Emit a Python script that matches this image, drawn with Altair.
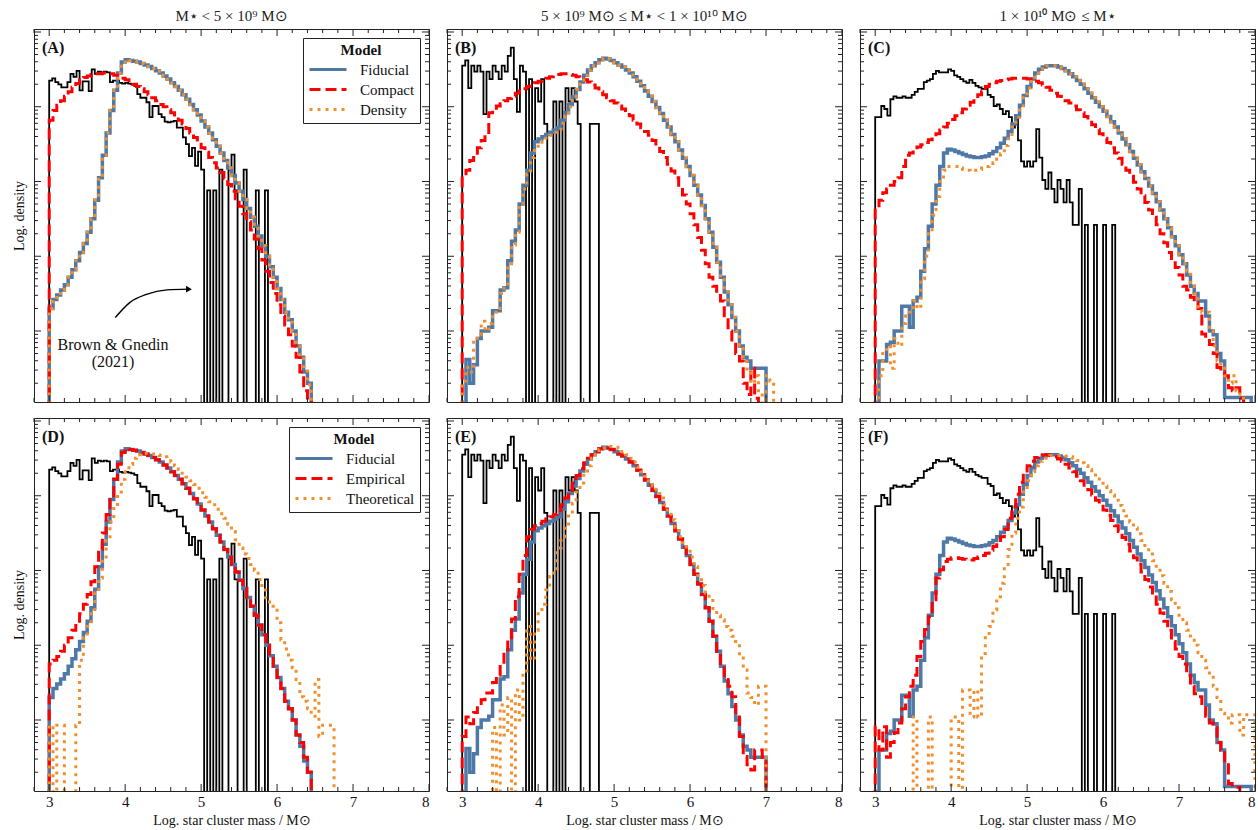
import math
import altair as alt
import pandas as pd

SERIF = "Liberation Serif"
FRAME = "#222222"
BLUE = "#4e79a7"
RED = "#ff0000"
ORANGE = "#f28e2b"

XMIN, XMAX = 2.8, 8.0
YMIN, YMAX = -3.95, 1.04
FLOOR = -9.0
W, H = 395, 373
X0 = 3.0
MODEL_BW = 0.05
OBS_BW = 0.04
N = None

# ---------------- observed (Brown & Gnedin 2021), log10 density, 0.04 dex bins from 3.0
obs_low = [0.35, 0.38, 0.33, 0.30, 0.26, 0.26, 0.33, 0.44, 0.40, 0.48,
           0.22, 0.34, 0.34, 0.21, 0.50, 0.44, 0.47, 0.46, 0.47, 0.46,
           0.33, 0.35, 0.35, 0.32, 0.31, 0.32, 0.31, 0.30, 0.28, 0.17,
           0.12, 0.12, 0.06, -0.14, 0.01, 0.01, -0.10, -0.14, -0.20, -0.21,
           -0.20, -0.19, -0.28, -0.28, -0.41, -0.50, -0.66, -0.55, -0.79, -0.60,
           -0.84, N, -1.12, N, -1.12, N, -0.84, N, N, -0.84,
           -0.64, -1.12, N, N, -0.84, N, N, N, -1.12, N,
           N, -1.12]
obs_mid = [0.55, 0.62, 0.25, 0.55, 0.47, 0.55, 0.47, -0.10, 0.47, 0.37,
           0.55, 0.47, 0.37, 0.55, 0.47, 0.68, 0.79, 0.37, -0.07, 0.55,
           0.47, N, 0.37, N, 0.25, 0.07, 0.37, -0.23, N, N,
           0.07, N, 0.07, N, 0.25, 0.07, 0.25, 0.07, -0.23, N,
           N, N, -0.23, -0.23, -0.23]
obs_high = [-0.14, -0.14, 0.01, -0.03, -0.12, 0.10, 0.14, 0.12, 0.12, 0.14,
            0.12, 0.12, 0.16, 0.20, 0.24, 0.24, 0.33, 0.35, 0.37, 0.44,
            0.48, 0.46, 0.46, 0.46, 0.50, 0.48, 0.42, 0.40, 0.37, 0.34,
            0.32, 0.36, 0.32, 0.28, 0.26, 0.24, 0.24, 0.16, 0.13, 0.01,
            0.03, -0.03, -0.10, -0.06, -0.14, -0.28, -0.14, -0.45, -0.73, -0.80,
            -0.73, -0.80, -0.73, -0.30, -0.68, -0.98, -1.10, -0.88, -1.10, -1.28,
            -0.98, -1.10, -1.28, -0.98, -1.28, -1.58, -1.58, -1.10, N, -1.58,
            N, N, -1.58, N, N, -1.58, N, N, -1.58]

# ---------------- models, log10 density, 0.05 dex bins from 3.0
fid_low = [-2.70, -2.58, -2.52, -2.45, -2.38, -2.28, -2.18, -2.06, -1.95, -1.83,
           -1.68, -1.50, -1.25, -0.95, -0.65, -0.35, -0.05, 0.22, 0.45, 0.60,
           0.63, 0.62, 0.61, 0.60, 0.58, 0.56, 0.54, 0.51, 0.48, 0.45,
           0.41, 0.37, 0.32, 0.27, 0.22, 0.16, 0.10, 0.03, -0.04, -0.11,
           -0.19, -0.27, -0.35, -0.44, -0.53, -0.62, -0.72, -0.82, -0.92, -1.02,
           -1.13, -1.24, -1.36, -1.48, -1.60, -1.73, -1.86, -2.00, -2.14, -2.28,
           -2.43, -2.58, -2.75, -2.85, -3.00, -3.20, -3.35, -3.55, -3.70]
cmp_low = [-0.18, -0.05, 0.02, 0.08, 0.14, 0.20, 0.26, 0.31, 0.36, 0.39,
           0.41, 0.43, 0.44, 0.44, 0.45, 0.44, 0.44, 0.42, 0.40, 0.38,
           0.36, 0.33, 0.30, 0.27, 0.24, 0.20, 0.16, 0.12, 0.08, 0.03,
           0.00, -0.04, -0.08, -0.13, -0.18, -0.23, -0.29, -0.35, -0.41, -0.48,
           -0.55, -0.61, -0.68, -0.75, -0.82, -0.88, -0.96, -1.04, -1.13, -1.23,
           -1.33, -1.43, -1.54, -1.65, -1.77, -1.90, -2.05, -2.20, -2.35, -2.50,
           -2.65, -2.80, -2.92, -3.05, -3.20, -3.35, -3.55, -3.80, -3.95]
den_low = [-2.70, -2.58, -2.52, -2.45, -2.38, -2.28, -2.18, -2.06, -1.95, -1.83,
           -1.68, -1.50, -1.25, -0.95, -0.65, -0.35, -0.05, 0.22, 0.45, 0.60,
           0.63, 0.62, 0.61, 0.60, 0.58, 0.56, 0.54, 0.51, 0.48, 0.45,
           0.41, 0.37, 0.32, 0.27, 0.22, 0.16, 0.10, 0.03, -0.04, -0.11,
           -0.19, -0.27, -0.35, -0.44, -0.53, -0.62, -0.72, -0.82, -0.92, -1.02,
           -1.13, -1.24, -1.36, -1.48, -1.60, -1.73, -1.86, -2.00, -2.14, -2.28,
           -2.43, -2.58, -2.75, -2.85, -3.00, -3.15, -3.35, -3.50, -3.72]
emp_low = [-2.25, -2.20, -2.15, -2.08, -2.00, -1.90, -1.80, -1.68, -1.58, -1.45,
           -1.32, -1.15, -0.95, -0.72, -0.50, -0.25, 0.00, 0.22, 0.42, 0.58,
           0.63, 0.62, 0.61, 0.60, 0.58, 0.56, 0.54, 0.51, 0.48, 0.45,
           0.41, 0.37, 0.32, 0.27, 0.22, 0.16, 0.10, 0.03, -0.04, -0.11,
           -0.19, -0.27, -0.35, -0.44, -0.53, -0.62, -0.72, -0.82, -0.92, -1.02,
           -1.13, -1.24, -1.36, -1.48, -1.60, -1.73, -1.86, -2.00, -2.14, -2.28,
           -2.43, -2.58, -2.75, -2.85, -3.00, -3.20, -3.30, -3.50, -3.70]
the_low = [-3.07, N, -3.07, -3.07, N, N, N, -3.07, -2.20, -1.90,
           -1.75, -1.55, -1.30, -1.10, -0.85, -0.60, -0.35, -0.15, 0.05, 0.22,
           0.32, 0.42, 0.50, 0.55, 0.57, 0.57, 0.57, 0.56, 0.55, 0.54,
           0.52, 0.49, 0.45, 0.40, 0.35, 0.30, 0.25, 0.20, 0.15, 0.10,
           0.04, -0.02, -0.08, -0.12, -0.18, -0.24, -0.30, -0.38, -0.48, -0.59,
           -0.70, -0.78, -0.84, -0.92, -1.00, -1.12, -1.26, -1.40, -1.48, -1.50,
           -1.70, -1.93, -2.05, -2.20, -2.30, -2.46, -2.69, -2.75, -2.85, -2.95,
           -2.46, -3.22, -3.07, -3.07, -3.07]

fid_mid = [N, -3.38, -3.70, -3.45, -3.10, -3.00, -3.00, -2.95, -2.73, -2.73,
           -2.45, -2.42, -2.06, -1.80, -1.65, -1.30, -1.05, -0.85, -0.62, -0.47,
           -0.43, -0.40, -0.37, -0.34, -0.31, -0.28, -0.18, -0.08, 0.03, 0.13,
           0.23, 0.33, 0.42, 0.49, 0.55, 0.59, 0.63, 0.65, 0.64, 0.62,
           0.59, 0.56, 0.53, 0.49, 0.45, 0.40, 0.34, 0.28, 0.21, 0.14,
           0.07, -0.01, -0.09, -0.18, -0.27, -0.37, -0.47, -0.58, -0.69, -0.80,
           -0.92, -1.05, -1.18, -1.32, -1.50, -1.68, -1.88, -2.08, -2.28, -2.48,
           -2.65, -2.82, -3.00, -3.20, -3.35, -3.40, -3.50, -3.50, -3.50, -3.50]
cmp_mid = [-0.92, -0.85, -0.72, -0.65, -0.55, -0.45, -0.38, -0.08, -0.04, 0.01,
           0.04, 0.08, 0.11, 0.14, 0.18, 0.21, 0.24, 0.27, 0.30, 0.32,
           0.34, 0.36, 0.38, 0.40, 0.42, 0.43, 0.44, 0.44, 0.43, 0.42,
           0.40, 0.38, 0.36, 0.33, 0.29, 0.25, 0.20, 0.16, 0.12, 0.08,
           0.05, 0.01, -0.03, -0.08, -0.12, -0.18, -0.23, -0.28, -0.33, -0.38,
           -0.45, -0.52, -0.60, -0.68, -0.77, -0.86, -0.95, -1.05, -1.18, -1.30,
           -1.43, -1.58, -1.75, -1.92, -2.10, -2.28, -2.40, -2.50, -2.60, -2.85,
           -3.00, -3.15, -3.30, -3.40, -3.70, -3.85, -3.50, -3.90]
den_mid = [-3.67, -3.49, -3.55, -3.15, -3.05, -2.87, -3.00, -2.90, -2.75, -2.70,
           -2.50, -2.40, -2.10, -1.85, -1.68, -1.35, -1.10, -0.90, -0.68, -0.55,
           -0.50, -0.46, -0.42, -0.38, -0.34, -0.30, -0.22, -0.12, 0.00, 0.12,
           0.23, 0.33, 0.42, 0.49, 0.55, 0.59, 0.63, 0.65, 0.64, 0.62,
           0.59, 0.56, 0.53, 0.49, 0.45, 0.40, 0.34, 0.28, 0.21, 0.14,
           0.07, -0.01, -0.09, -0.18, -0.27, -0.37, -0.47, -0.58, -0.69, -0.80,
           -0.92, -1.05, -1.18, -1.32, -1.50, -1.68, -1.88, -2.08, -2.28, -2.48,
           -2.65, -2.82, -3.00, -3.20, -3.40, -3.55, -3.70, -3.60, -3.80, N,
           -3.60, -3.67]
emp_mid = [-3.22, -2.96, -3.05, -2.90, -2.78, -2.73, -2.64, -2.64, -2.50, -2.40,
           -2.25, -2.10, -1.90, -1.65, -1.35, -1.05, -0.80, -0.55, -0.45, -0.40,
           -0.37, -0.34, -0.31, -0.28, -0.25, -0.20, -0.12, -0.03, 0.07, 0.17,
           0.27, 0.36, 0.44, 0.50, 0.55, 0.59, 0.63, 0.65, 0.64, 0.62,
           0.59, 0.56, 0.53, 0.49, 0.45, 0.40, 0.34, 0.28, 0.21, 0.14,
           0.07, -0.01, -0.09, -0.18, -0.27, -0.37, -0.47, -0.58, -0.69, -0.80,
           -0.92, -1.05, -1.18, -1.32, -1.50, -1.68, -1.88, -2.08, -2.28, -2.46,
           -2.55, -2.69, -2.96, -3.22, -3.49, -3.60, -3.67, -3.40, -3.40, -3.50]
the_mid = [N, N, N, N, N, N, N, N, -3.10, N,
           -2.80, -3.20, -2.70, N, -2.60, -3.00, -2.40, -1.75, -2.20, -1.80,
           -1.55, -1.45, -1.26, -1.08, -1.00, -0.70, -0.55, -0.40, -0.25, -0.10,
           0.05, 0.17, 0.30, 0.40, 0.50, 0.57, 0.62, 0.64, 0.66, 0.66,
           0.65, 0.63, 0.59, 0.55, 0.50, 0.45, 0.38, 0.32, 0.26, 0.20,
           0.13, 0.05, -0.03, -0.12, -0.22, -0.32, -0.42, -0.55, -0.65, -0.72,
           -0.82, -0.95, -1.10, -1.20, -1.30, -1.40, -1.53, -1.60, -1.66, -1.75,
           -1.80, -1.88, -1.95, -2.15, -2.33, -2.64, -2.70, -2.80, -2.55, -2.55]

fid_high = [N, -3.40, -3.40, -3.18, -3.15, -3.00, -3.00, -2.67, -2.67, -2.95,
            -2.60, -2.55, -2.20, -1.90, -1.60, -1.30, -1.05, -0.80, -0.62, -0.57,
            -0.58, -0.60, -0.62, -0.64, -0.66, -0.67, -0.68, -0.68, -0.67, -0.66,
            -0.63, -0.60, -0.55, -0.49, -0.42, -0.33, -0.23, -0.12, 0.02, 0.15,
            0.27, 0.37, 0.45, 0.50, 0.53, 0.55, 0.55, 0.55, 0.53, 0.51,
            0.48, 0.44, 0.40, 0.35, 0.30, 0.24, 0.18, 0.12, 0.06, 0.00,
            -0.06, -0.13, -0.20, -0.27, -0.35, -0.43, -0.51, -0.60, -0.69, -0.78,
            -0.87, -0.96, -1.06, -1.16, -1.27, -1.38, -1.50, -1.62, -1.74, -1.86,
            -1.98, -2.10, -2.25, -2.40, -2.50, -2.60, -2.60, -2.80, -3.00, -3.05,
            -3.30, -3.40, -3.89, -3.89, -3.89, -3.89, -3.89, -3.89, -3.89]
cmp_high = [-1.35, -1.25, -1.15, -1.10, -1.05, -1.00, -0.95, -0.80, -0.65, -0.62,
            -0.58, -0.54, -0.51, -0.48, -0.44, -0.40, -0.36, -0.31, -0.27, -0.22,
            -0.17, -0.12, -0.08, -0.03, 0.02, 0.06, 0.11, 0.16, 0.20, 0.27,
            0.30, 0.32, 0.34, 0.35, 0.36, 0.37, 0.38, 0.38, 0.38, 0.38,
            0.37, 0.36, 0.34, 0.32, 0.29, 0.26, 0.22, 0.18, 0.14, 0.11,
            0.08, 0.05, 0.01, -0.04, -0.08, -0.13, -0.18, -0.24, -0.30, -0.36,
            -0.42, -0.48, -0.55, -0.62, -0.69, -0.77, -0.85, -0.93, -1.01, -1.10,
            -1.19, -1.28, -1.38, -1.48, -1.58, -1.70, -1.82, -1.95, -2.05, -2.15,
            -2.25, -2.40, -2.45, -2.55, -2.62, -2.70, -3.04, -3.10, -3.18, -3.30,
            -3.49, -3.55, -3.60, -3.76, -3.80, -3.76, -3.90]
den_high = [N, -3.60, -3.30, -3.20, -3.50, -3.10, -3.20, -2.90, -2.80, -2.75,
            -2.60, -2.70, -2.30, -2.00, -1.70, -1.45, -1.20, -1.00, -0.85, -0.80,
            -0.80, -0.80, -0.82, -0.84, -0.85, -0.86, -0.85, -0.84, -0.82, -0.80,
            -0.78, -0.75, -0.70, -0.63, -0.52, -0.40, -0.27, -0.14, -0.02, 0.12,
            0.25, 0.36, 0.45, 0.50, 0.53, 0.55, 0.55, 0.55, 0.53, 0.51,
            0.48, 0.44, 0.40, 0.35, 0.30, 0.24, 0.18, 0.12, 0.06, 0.00,
            -0.06, -0.13, -0.20, -0.27, -0.35, -0.43, -0.51, -0.60, -0.69, -0.78,
            -0.87, -0.96, -1.06, -1.16, -1.27, -1.38, -1.50, -1.62, -1.74, -1.86,
            -1.98, -2.10, -2.20, -2.35, -2.50, -2.70, -2.75, -2.75, -3.00, -3.20,
            -3.40, -3.50, -3.60, -3.70, -3.60, -3.80, -3.90]
emp_high = [-3.09, -3.40, -3.09, -3.50, -3.30, -3.17, -3.04, -2.85, -2.69, -2.55,
            -2.40, -2.15, -1.95, -1.79, -1.62, -1.39, -1.10, -0.99, -0.88, -0.85,
            -0.83, -0.83, -0.84, -0.85, -0.86, -0.86, -0.84, -0.82, -0.80, -0.77,
            -0.73, -0.68, -0.62, -0.55, -0.45, -0.30, -0.15, 0.02, 0.18, 0.30,
            0.40, 0.46, 0.51, 0.54, 0.55, 0.55, 0.54, 0.52, 0.49, 0.46,
            0.42, 0.37, 0.32, 0.26, 0.20, 0.14, 0.08, 0.01, -0.06, -0.12,
            -0.19, -0.26, -0.33, -0.40, -0.48, -0.56, -0.65, -0.74, -0.83, -0.92,
            -1.02, -1.12, -1.22, -1.33, -1.45, -1.57, -1.68, -1.80, -1.95, -2.05,
            -2.15, -2.25, -2.40, -2.55, -2.65, -2.69, -2.80, -2.95, -3.04, -3.10,
            -3.30, -3.40, -3.60, -3.85, -3.90, -3.90]
the_high = [N, N, N, N, N, N, N, N, N, N,
            -2.96, N, N, N, -2.96, N, N, N, N, N,
            -2.96, -2.96, N, -2.60, -2.60, -2.96, -2.60, -2.96, -2.11, -1.90,
            -1.75, -1.53, -1.35, -1.17, -0.95, -0.72, -0.50, -0.30, -0.15, 0.05,
            0.20, 0.32, 0.40, 0.46, 0.50, 0.52, 0.54, 0.54, 0.54, 0.54,
            0.53, 0.52, 0.50, 0.47, 0.44, 0.40, 0.35, 0.30, 0.25, 0.19,
            0.13, 0.07, 0.01, -0.06, -0.13, -0.20, -0.27, -0.35, -0.43, -0.51,
            -0.60, -0.69, -0.78, -0.87, -0.97, -1.07, -1.17, -1.28, -1.39, -1.50,
            -1.60, -1.70, -1.80, -1.90, -2.00, -2.10, -2.20, -2.30, -2.40, -2.55,
            -2.70, -2.91, -2.95, -3.04, -2.93, -2.93, -3.20, -2.93, -2.93, -2.93]

# annotation arrow (data coordinates)
arrow_x = [3.87, 4.06, 4.28, 4.55, 4.84]
arrow_y = [-2.82, -2.62, -2.51, -2.45, -2.44]

TITLES = ["M⋆ < 5 × 10⁹ M⊙",
          "5 × 10⁹ M⊙ ≤ M⋆ < 1 × 10¹⁰ M⊙",
          "1 × 10¹⁰ M⊙ ≤ M⋆"]

XS = alt.Scale(domain=[XMIN, XMAX], nice=False, zero=False)
YS = alt.Scale(domain=[YMIN, YMAX], nice=False, zero=False)

x_major = [3, 4, 5, 6, 7, 8]
x_minor = [round(2.8 + 0.2 * k, 2) for k in range(27)]
x_minor = [v for v in x_minor if abs(v - round(v)) > 1e-6]
y_major = [-3, -2, -1, 0, 1]
y_minor = [d + math.log10(k) for d in range(-4, 1) for k in range(2, 10)]
y_minor = [v for v in y_minor if YMIN < v < YMAX]


def steps(vals, bw, name):
    rows = [dict(x=X0, y=FLOOR, i=0, s=name)]
    for k, v in enumerate(vals):
        rows.append(dict(x=round(X0 + k * bw, 4), y=FLOOR if v is None else v, i=k + 1, s=name))
    rows.append(dict(x=round(X0 + len(vals) * bw, 4), y=FLOOR, i=len(vals) + 1, s=name))
    return pd.DataFrame(rows)


def panel(letter, obs, models, names, bottom, left, legend, title=None, note=False):
    if bottom:
        xaxis = alt.Axis(values=x_major, format="d", ticks=False, domain=False, grid=False,
                         labelFont=SERIF, labelFontSize=15, labelColor="#111", labelPadding=3,
                         title="Log. star cluster mass / M⊙", titleFont=SERIF, titleFontSize=14,
                         titleFontWeight="normal", titleColor="#111", titlePadding=4)
    else:
        xaxis = None
    if left:
        yaxis = alt.Axis(labels=False, ticks=False, domain=False, grid=False,
                         title="Log. density", titleFont=SERIF, titleFontSize=14,
                         titleFontWeight="normal", titleColor="#111", titlePadding=8)
    else:
        yaxis = None

    def X(f):
        return alt.X(f, scale=XS, axis=xaxis)

    def Y(f):
        return alt.Y(f, scale=YS, axis=yaxis)

    layers = []
    layers.append(
        alt.Chart(steps(obs, OBS_BW, "obs")).mark_line(
            interpolate="step-after", clip=True, color="black", strokeWidth=1.8
        ).encode(x=X("x:Q"), y=Y("y:Q"), order="i:Q")
    )
    cscale = alt.Scale(domain=names, range=[BLUE, RED, ORANGE])
    dscale = alt.Scale(domain=names, range=[[1, 0], [11, 5], [3, 5]])
    if legend:
        leg = alt.Legend(title="Model", orient="top-right", offset=9,
                         symbolType="M-1,0L2.7,0", symbolSize=400, symbolStrokeWidth=3,
                         labelFont=SERIF, labelFontSize=15,
                         labelColor="#111", titleFont=SERIF, titleFontSize=15, titleFontWeight="bold",
                         titleColor="#111", titleAnchor="middle", titlePadding=0,
                         strokeColor="#222", fillColor="white", padding=5, rowPadding=0,
                         labelOffset=29, cornerRadius=0)
    else:
        leg = None
    for name, vals, sw in zip(names, models, [3.5, 3.0, 3.0]):
        layers.append(
            alt.Chart(steps(vals, MODEL_BW, name)).mark_line(
                interpolate="step-after", clip=True, strokeWidth=sw, strokeCap="butt"
            ).encode(
                x=X("x:Q"), y=Y("y:Q"), order="i:Q",
                color=alt.Color("s:N", scale=cscale, legend=leg),
                strokeDash=alt.StrokeDash("s:N", scale=dscale, legend=leg),
            )
        )
    for vals, ln in [(x_major, 7), (x_minor, 4)]:
        base = alt.Chart(pd.DataFrame({"v": vals})).mark_rule(color=FRAME, strokeWidth=1)
        layers.append(base.encode(x=X("v:Q"), y=alt.value(H - ln), y2=alt.value(H)))
        layers.append(base.encode(x=X("v:Q"), y=alt.value(0), y2=alt.value(ln)))
    for vals, ln in [(y_major, 7), (y_minor, 4)]:
        base = alt.Chart(pd.DataFrame({"v": vals})).mark_rule(color=FRAME, strokeWidth=1)
        layers.append(base.encode(y=Y("v:Q"), x=alt.value(0), x2=alt.value(ln)))
        layers.append(base.encode(y=Y("v:Q"), x=alt.value(W - ln), x2=alt.value(W)))
    layers.append(
        alt.Chart(pd.DataFrame({"t": [f"({letter})"]})).mark_text(
            align="left", baseline="middle", font=SERIF, fontSize=16, fontWeight="bold", color="#111"
        ).encode(text="t:N", x=alt.value(8), y=alt.value(19))
    )
    if note:
        adf = pd.DataFrame({"x": arrow_x, "y": arrow_y, "i": list(range(len(arrow_x)))})
        layers.append(
            alt.Chart(adf).mark_line(interpolate="monotone", color="black", strokeWidth=1.4)
            .encode(x=X("x:Q"), y=Y("y:Q"), order="i:Q")
        )
        layers.append(
            alt.Chart(adf.tail(1)).mark_point(shape="triangle-right", filled=True, size=45,
                                              color="black", opacity=1)
            .encode(x=X("x:Q"), y=Y("y:Q"))
        )
        layers.append(
            alt.Chart(pd.DataFrame({"x": [3.84], "y": [-3.19], "t": ["Brown & Gnedin\n(2021)"]}))
            .mark_text(lineBreak="\n", align="center", baseline="middle", font=SERIF,
                       fontSize=16, lineHeight=17, color="#111")
            .encode(x=X("x:Q"), y=Y("y:Q"), text="t:N")
        )
    ch = alt.layer(*layers).properties(width=W, height=H)
    if title:
        ch = ch.properties(title=alt.TitleParams(title, font=SERIF, fontSize=15, fontWeight="normal",
                                                 anchor="middle", offset=5, color="#222"))
    return ch


names1 = ["Fiducial", "Compact", "Density"]
names2 = ["Fiducial", "Empirical", "Theoretical"]

pA = panel("A", obs_low, [fid_low, cmp_low, den_low], names1, False, True, True, TITLES[0], note=True)
pB = panel("B", obs_mid, [fid_mid, cmp_mid, den_mid], names1, False, False, False, TITLES[1])
pC = panel("C", obs_high, [fid_high, cmp_high, den_high], names1, False, False, False, TITLES[2])
pD = panel("D", obs_low, [fid_low, emp_low, the_low], names2, True, True, True)
pE = panel("E", obs_mid, [fid_mid, emp_mid, the_mid], names2, True, False, False)
pF = panel("F", obs_high, [fid_high, emp_high, the_high], names2, True, False, False)

row1 = alt.hconcat(pA, pB, pC, spacing=16).resolve_scale(color="independent", strokeDash="independent")
row2 = alt.hconcat(pD, pE, pF, spacing=16).resolve_scale(color="independent", strokeDash="independent")

chart = (
    alt.vconcat(row1, row2, spacing=14)
    .resolve_scale(color="independent", strokeDash="independent")
    .properties(padding={"left": 11, "top": 8, "right": 2, "bottom": 2}, background="white")
    .configure_view(stroke=FRAME, strokeWidth=1)
)

chart.save("out.html", embed_options={"renderer": "svg", "actions": False})
